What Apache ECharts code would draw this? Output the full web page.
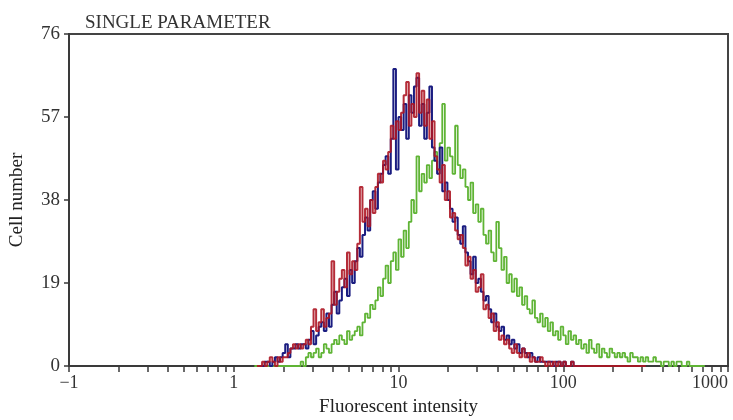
<!DOCTYPE html>
<html>
<head>
<meta charset="utf-8">
<script src="https://cdn.jsdelivr.net/npm/echarts@6/dist/echarts.min.js"></script>
<style>html,body{margin:0;padding:0;background:#fff}#c{width:733px;height:420px}</style>
</head>
<body>
<div id="c"></div>
<script>
// Histogram channels: 64 per decade on a 4-decade log scale starting at 0.1
var channelsPerDecade = 64;
var axisMinDecade = -1;

var blueStart = 74;
var blueValues = [
  0,0,1,1,0,1,2,1,
  2,3,5,2,4,4,5,4,
  5,5,4,6,8,5,7,9,
  10,8,12,9,14,17,12,15,
  18,20,16,22,19,24,27,25,
  30,34,31,38,40,36,42,44,
  46,48,44,52,68,45,57,54,
  60,52,62,58,64,66,55,60,
  52,58,64,50,47,44,50,40,
  42,38,36,33,34,30,28,32,
  26,24,21,25,19,20,17,15,
  16,13,10,12,9,8,9,6,
  7,5,6,4,5,3,4,3,
  2,3,2,1,2,1,1,1,
  1,1,0,1,1,0,1,0,
  0,1,0,0,0,0,0,0
];

var redStart = 73;
var redValues = [
  0,
  0,1,0,1,2,1,0,2,
  1,2,2,3,4,5,4,5,
  4,5,6,5,9,13,8,10,
  13,9,11,12,24,14,17,20,
  22,18,26,21,24,22,28,41,
  33,36,32,38,35,41,44,42,
  47,45,49,55,52,56,54,58,
  62,65,55,60,57,67,58,63,
  55,61,52,56,48,45,42,46,
  38,40,34,35,31,29,30,27,
  23,25,20,22,17,18,21,13,
  14,11,12,8,10,6,7,5,
  6,4,3,5,3,2,4,2,
  3,1,2,1,1,2,1,0,
  1,0,1,0,1,0,1,0,
  0,1,0,0,0,0,0,0,
  0,0,0,0,0,0,0,0,
  0,0,0,0,0,0,0,0,
  0,0,0,0,0,0,0
];

var greenStart = 72;
var greenValues = [
  0,0,0,0,0,0,0,0,
  0,0,0,0,0,0,0,0,
  0,0,1,0,2,3,2,3,
  4,2,3,5,4,3,5,6,
  5,7,6,5,8,6,7,8,
  9,7,10,12,11,14,13,15,
  18,16,20,23,19,24,26,22,
  29,25,31,27,33,38,35,48,
  40,44,42,46,43,47,49,45,
  51,60,47,50,48,44,55,46,
  43,45,41,38,42,35,37,33,
  36,30,28,31,26,24,33,27,
  22,25,19,21,17,20,16,18,
  14,16,13,12,15,11,10,12,
  9,11,8,10,7,8,6,9,
  7,5,8,6,7,5,6,4,
  5,3,6,4,3,5,2,4,
  3,2,4,3,2,3,2,3,
  2,1,3,2,2,1,2,1,
  2,1,1,2,1,1,0,1,
  1,0,1,0,1,1,0,0,
  1,0,0,0,0,0,0,0
];

var xTickValues = [0.1,0.2,0.3,0.4,0.5,0.6,0.7,0.8,0.9,1,2,3,4,5,6,7,8,9,10,20,30,40,50,60,70,80,90,100,200,300,400,500,600,700,800,900,1000];
var xLabelValues = [0.1,1,10,100,1000];
var xLabelTexts = ['\u22121','1','10','100','1000'];

var titleText = 'SINGLE PARAMETER';
var xName = 'Fluorescent intensity';
var yName = 'Cell number';

function toPairs(start, vals) {
  var out = [];
  for (var i = 0; i < vals.length; i++) {
    var ch = start + i;
    out.push([Math.pow(10, axisMinDecade + ch / channelsPerDecade), vals[i]]);
  }
  return out;
}

var serif = 'Liberation Serif, Times New Roman, serif';
var axisColor = '#3a3a3a';

var chart = echarts.init(document.getElementById('c'), null, {renderer: 'canvas'});
chart.setOption({
  animation: false,
  backgroundColor: '#fff',
  title: {
    text: titleText, left: 80, top: 9,
    textStyle: {fontFamily: serif, fontSize: 19, fontWeight: 'normal', color: '#333'}
  },
  grid: {left: 69, right: 5, top: 34, bottom: 54, show: true, borderColor: '#444', borderWidth: 2,
         containLabel: false, outerBoundsMode: 'none'},
  xAxis: {
    type: 'log', logBase: 10, min: 0.1, max: 1000,
    name: xName, nameLocation: 'middle', nameGap: 32,
    nameTextStyle: {fontFamily: serif, fontSize: 19, color: '#222'},
    axisLine: {show: true, onZero: false, lineStyle: {color: axisColor, width: 2}},
    axisTick: {show: true, inside: false, length: 6, customValues: xTickValues, lineStyle: {color: axisColor, width: 1.5}},
    minorTick: {show: false},
    axisLabel: {
      customValues: xLabelValues, margin: 8, alignMaxLabel: 'right',
      fontFamily: serif, fontSize: 18, color: '#333',
      formatter: function (v) {
        for (var i = 0; i < xLabelValues.length; i++) {
          if (Math.abs(Math.log10(v) - Math.log10(xLabelValues[i])) < 1e-6) return xLabelTexts[i];
        }
        return '';
      }
    },
    splitLine: {show: false}
  },
  yAxis: {
    type: 'value', min: 0, max: 76, interval: 19,
    name: yName, nameLocation: 'middle', nameGap: 42, nameRotate: 90,
    nameTextStyle: {fontFamily: serif, fontSize: 19, color: '#222'},
    axisLine: {show: true, lineStyle: {color: axisColor, width: 2}},
    axisTick: {show: true, inside: false, length: 5, lineStyle: {color: axisColor, width: 1.5}},
    axisLabel: {margin: 9, fontFamily: serif, fontSize: 19, color: '#333'},
    splitLine: {show: false}
  },
  series: [
    {type: 'line', step: 'end', showSymbol: false, data: toPairs(greenStart, greenValues),
     lineStyle: {color: '#5fb435', width: 1.8}, itemStyle: {color: '#5fb435'}, z: 2},
    {type: 'line', step: 'end', showSymbol: false, data: toPairs(blueStart, blueValues),
     lineStyle: {color: '#1a1c80', width: 2}, itemStyle: {color: '#1a1c80'}, z: 3},
    {type: 'line', step: 'end', showSymbol: false, data: toPairs(redStart, redValues),
     lineStyle: {color: '#ad1624', width: 2, opacity: 0.9}, itemStyle: {color: '#ad1624'}, z: 4}
  ]
});
</script>
</body>
</html>
